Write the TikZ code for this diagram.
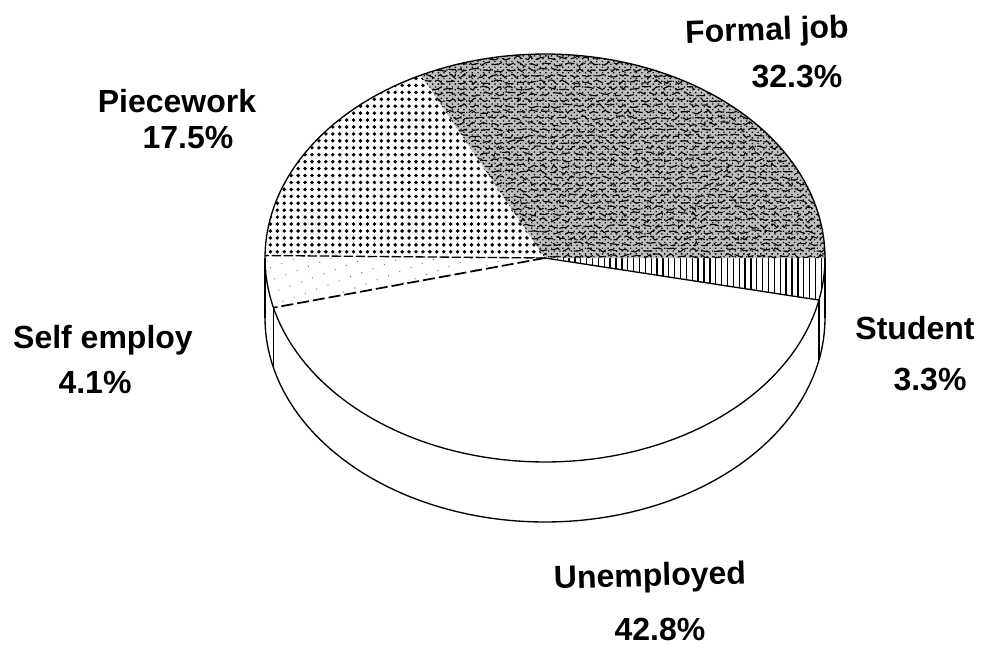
\documentclass[tikz,border=0pt]{standalone}
\usepackage{fontspec}
\setmainfont{Liberation Sans}
\usetikzlibrary{patterns.meta,decorations.pathmorphing}
\begin{document}
\begin{tikzpicture}[x=0.75pt,y=-0.75pt,
  lbl/.style={font=\fontsize{24}{28}\selectfont\bfseries, inner sep=0pt},
  rim/.style={line width=1pt, black},
  bound/.style={line width=1.3pt, black},
]
\useasboundingbox (0,0) rectangle (983,647);
\def\cx{545}\def\cy{258}\def\rx{280}\def\ry{204}\def\by{318}
\coordinate (C) at (545,258);
% side faces (white) and bottom rim
\fill[white] (265,258) -- (265,318) -- plot[domain=180:360,samples=90] ({\cx+\rx*cos(\x)},{\by-\ry*sin(\x)}) -- (825,258) -- cycle;
% Unemployed
\fill[white] (C) -- plot[domain=194.1:348.1,samples=90] ({\cx+\rx*cos(\x)},{\cy-\ry*sin(\x)}) -- cycle;
% Self employ
\fill[pattern={Dots[distance=9pt,radius=0.5pt,angle=20]},pattern color=black!55] (C) -- plot[domain=179.3:194.1,samples=20] ({\cx+\rx*cos(\x)},{\cy-\ry*sin(\x)}) -- cycle;
% Piecework
\fill[pattern={Dots[distance=5.2pt,radius=1.45pt]}] (C) -- plot[domain=116.3:179.3,samples=60] ({\cx+\rx*cos(\x)},{\cy-\ry*sin(\x)}) -- cycle;
% Student
\fill[pattern={Lines[distance=4.4pt,angle=90,line width=1pt]}] (C) -- plot[domain=-11.9:0,samples=20] ({\cx+\rx*cos(\x)},{\cy-\ry*sin(\x)}) -- cycle;
% Formal job
\begin{scope}
  \clip (C) -- plot[domain=0:116.3,samples=80] ({\cx+\rx*cos(\x)},{\cy-\ry*sin(\x)}) -- cycle;
  \fill[black!25] (400,40) rectangle (840,270);
  \fill[pattern={Dots[distance=3pt,radius=0.7pt,angle=45]}] (400,40) rectangle (840,270);
  \pgfmathsetseed{12}
  \foreach \yy in {58,64,...,265}
    \draw[line width=0.85pt, dash pattern=on 7pt off 3pt, decorate,
      decoration={random steps,segment length=2.5pt,amplitude=1.6pt}] (400,\yy) -- (840,\yy);
\end{scope}
% slice boundaries
\draw[bound, dash pattern=on 9pt off 3pt] (C) -- ({\cx+\rx*cos(194.1)},{\cy-\ry*sin(194.1)});
\draw[line width=1pt, dash pattern=on 7pt off 2pt] (C) -- ({\cx+\rx*cos(179.3)},{\cy-\ry*sin(179.3)});
\draw[line width=1pt] (C) -- ({\cx+\rx*cos(-11.9)},{\cy-\ry*sin(-11.9)});
% top rim
\draw[rim] plot[domain=0:360,samples=180] ({\cx+\rx*cos(\x)},{\cy-\ry*sin(\x)}) -- cycle;
% sides and bottom rim
\draw[rim] (265,258) -- (265,318);
\draw[rim] (825,258) -- (825,318);
\draw[rim] plot[domain=180:360,samples=120] ({\cx+\rx*cos(\x)},{\by-\ry*sin(\x)});
% vertical edges at slice boundaries
\draw[rim] ({\cx+\rx*cos(194.1)},{\cy-\ry*sin(194.1)}) -- ({\cx+\rx*cos(194.1)},{\by-\ry*sin(194.1)});
\draw[rim] ({\cx+\rx*cos(-11.9)},{\cy-\ry*sin(-11.9)}) -- ({\cx+\rx*cos(-11.9)},{\by-\ry*sin(-11.9)});
% labels
\node[lbl, rotate=2] (formal) at (767,32) {Formal job};
\node[lbl] (formalp) at (797,77) {32.3\%};
\node[lbl] (piece) at (177,101) {Piecework};
\node[lbl] (piecep) at (188,138) {17.5\%};
\node[lbl] (self) at (103,340) {Self employ};
\node[lbl] (selfp) at (95,382) {4.1\%};
\node[lbl] (stud) at (915,328) {Student};
\node[lbl] (studp) at (930,380) {3.3\%};
\node[lbl, rotate=1.5] (unemp) at (650,578) {Unemployed};
\node[lbl] (unempp) at (660,629) {42.8\%};
\end{tikzpicture}
\end{document}
